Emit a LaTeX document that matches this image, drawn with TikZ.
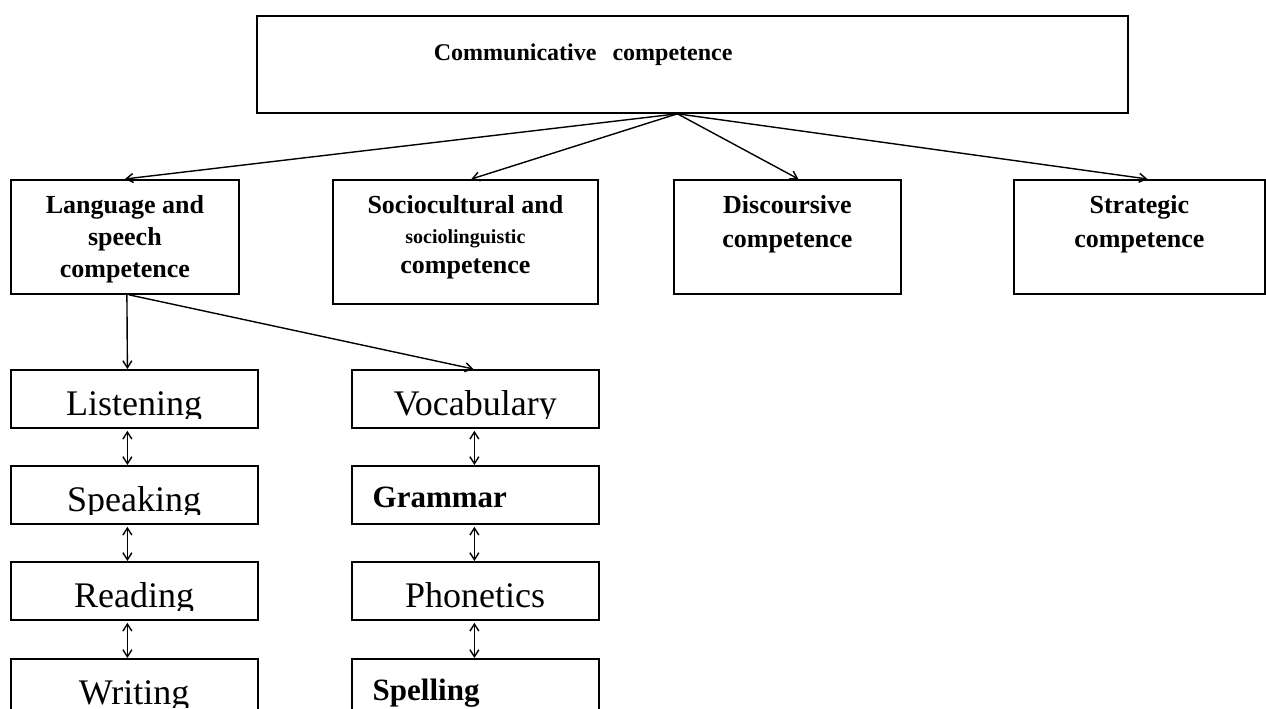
\documentclass[tikz,border=0pt]{standalone}
\usepackage{fontspec}
\setmainfont{Liberation Serif}
\usepackage{tikz}
\usetikzlibrary{arrows.meta}
\tikzstyle{compbox}=[rectangle, draw=black, line width=1.8pt, inner sep=0pt, anchor=north west, font=\bfseries\fontsize{26}{32}\selectfont]
\tikzstyle{skillbox}=[rectangle, draw=black, line width=1.8pt, inner sep=0pt, anchor=north west, minimum width=247pt, minimum height=58pt]
\tikzstyle{skilltext}=[anchor=north west, inner sep=0pt, text width=247pt, align=center, text height=46pt, text depth=12pt, font=\fontsize{36}{40}\selectfont]
\tikzstyle{skillbold}=[anchor=north west, inner xsep=21pt, inner ysep=0pt, text width=205pt, align=left, text height=42pt, text depth=16pt, font=\bfseries\fontsize{31}{36}\selectfont]

\begin{document}
\begin{tikzpicture}[x=1pt,y=-1pt,>={Straight Barb[length=7pt,width=9pt]},line width=1.4pt]
  \useasboundingbox (0,0) rectangle (1266,709);
  % top
  \node (comm) [compbox, minimum width=871pt, minimum height=97pt, text width=517pt, inner xsep=177pt, align=left,
    text height=45pt, text depth=52pt, font=\bfseries\fontsize{24}{30}\selectfont] at (256,15) {Communicative~~competence};
  % second row
  \node (lang) [compbox, minimum width=228pt, minimum height=114pt, text height=34pt, text depth=80pt] at (10,179)
    {\begin{tabular}[t]{@{}c@{}}Language and\\speech\\competence\end{tabular}};
  \node (socio) [compbox, minimum width=265pt, minimum height=124pt, text height=34pt, text depth=90pt,
    font=\bfseries\fontsize{26}{30}\selectfont] at (332,179)
    {\begin{tabular}[t]{@{}c@{}}Sociocultural and\\{\fontsize{20}{24}\selectfont sociolinguistic}\\competence\end{tabular}};
  \node (disc) [compbox, minimum width=227pt, minimum height=114pt, text height=34pt, text depth=80pt,
    font=\bfseries\fontsize{26}{34}\selectfont] at (673,179)
    {\begin{tabular}[t]{@{}c@{}}Discoursive\\competence\end{tabular}};
  \node (strat) [compbox, minimum width=251pt, minimum height=114pt, text height=34pt, text depth=80pt,
    font=\bfseries\fontsize{26}{34}\selectfont] at (1013,179)
    {\begin{tabular}[t]{@{}c@{}}Strategic\\competence\end{tabular}};
  % skills
  \foreach \nm/\x/\y/\st/\txt in {listen/10/369/skilltext/Listening, speak/10/465/skilltext/Speaking,
      read/10/561/skilltext/Reading, write/10/658/skilltext/Writing,
      vocab/351/369/skilltext/Vocabulary, gram/351/465/skillbold/Grammar,
      phon/351/561/skilltext/Phonetics, spell/351/658/skillbold/Spelling}
  {
    \node (\nm) [skillbox] at (\x,\y) {};
    \begin{scope}
      \clip (\nm.north west) rectangle ([yshift=10pt]\nm.south east);
      \node [\st] at (\nm.north west) {\txt};
    \end{scope}
  }
  \path[->]
  ([xshift=-15pt]comm.south) edge (lang.north)
  ([xshift=-15pt]comm.south) edge ([xshift=6pt]socio.north)
  ([xshift=-15pt]comm.south) edge ([xshift=11pt]disc.north)
  ([xshift=-15pt]comm.south) edge ([xshift=8pt]strat.north)
  ([xshift=2pt]lang.south) edge ([xshift=-7pt]listen.north)
  ([xshift=4pt]lang.south) edge ([xshift=-2pt]vocab.north);
  \path[<->, shorten <=2pt]
  ([xshift=-7pt]listen.south) edge ([xshift=-7pt]speak.north)
  ([xshift=-7pt]speak.south) edge ([xshift=-7pt]read.north)
  ([xshift=-7pt]read.south) edge ([xshift=-7pt]write.north)
  ([xshift=-1pt]vocab.south) edge ([xshift=-1pt]gram.north)
  ([xshift=-1pt]gram.south) edge ([xshift=-1pt]phon.north)
  ([xshift=-1pt]phon.south) edge ([xshift=-1pt]spell.north);
\end{tikzpicture}
\end{document}
